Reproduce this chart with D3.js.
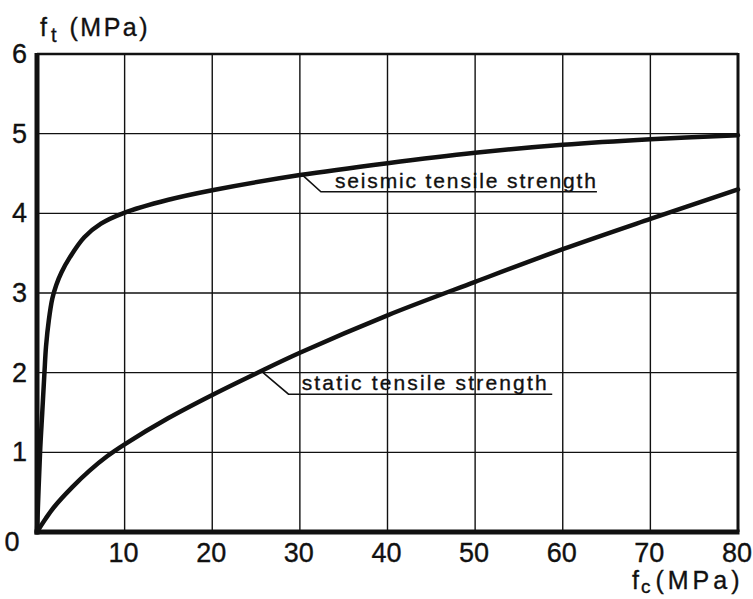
<!DOCTYPE html>
<html>
<head>
<meta charset="utf-8">
<script src="https://cdn.jsdelivr.net/npm/d3@7"></script>
<style>
  html, body { margin: 0; padding: 0; background: #fff; }
  svg { display: block; }
  text { font-family: "Liberation Sans", Arial, sans-serif; fill: #111; stroke: #111; stroke-width: 0.35; }
</style>
</head>
<body>
<svg id="chart" width="753" height="599"></svg>
<script>
// Compressive strength fc (MPa) and tensile strength ft (MPa)
const seismicFc = [0, 0.35, 0.6, 0.85, 1.03, 1.35, 1.75, 2.2, 2.8, 3.76, 5.4, 7.3, 9.8, 15, 20, 30, 40, 50, 60, 70, 80];
const seismicFt = [0, 1.0, 1.5, 2.0, 2.33, 2.66, 2.93, 3.1, 3.26, 3.45, 3.7, 3.87, 4.0, 4.17, 4.29, 4.48, 4.63, 4.76, 4.86, 4.93, 4.98];

const staticFc = [0, 1, 2, 4, 6, 8, 10, 15, 20, 25, 30, 40, 50, 60, 70, 80];
const staticFt = [0, 0.17, 0.32, 0.56, 0.77, 0.95, 1.1, 1.43, 1.72, 1.99, 2.25, 2.72, 3.14, 3.55, 3.93, 4.30];

const xTicks = [10, 20, 30, 40, 50, 60, 70, 80];
const yTicks = [1, 2, 3, 4, 5, 6];

// Leader-line annotations: [curve point, elbow, end of underline] in data units
const seismicLabel = { text: "seismic tensile strength", pts: [[30.3, 4.48], [32.4, 4.27], [63.9, 4.27]], textStart: 34.0, textLen: 261 };
const staticLabel  = { text: "static tensile strength",  pts: [[25.8, 2.0], [28.7, 1.73], [58.8, 1.73]], textStart: 30.2, textLen: 245 };

const svg = d3.select("#chart");
const x = d3.scaleLinear().domain([0, 80]).range([37, 738]);
const y = d3.scaleLinear().domain([0, 6]).range([532, 54]);

// grid
const grid = svg.append("g");
grid.selectAll("line.v").data(xTicks.slice(0, -1)).join("line")
  .attr("x1", d => x(d)).attr("x2", d => x(d))
  .attr("y1", y(0)).attr("y2", y(6))
  .attr("stroke", "#111").attr("stroke-width", 1.4);
grid.selectAll("line.h").data(yTicks.slice(0, -1)).join("line")
  .attr("x1", x(0)).attr("x2", x(80))
  .attr("y1", d => y(d)).attr("y2", d => y(d))
  .attr("stroke", "#111").attr("stroke-width", 1.4);

// frame
const frame = svg.append("g").attr("stroke", "#111").attr("fill", "none");
frame.append("line").attr("x1", x(0)).attr("x2", x(80)).attr("y1", y(6)).attr("y2", y(6)).attr("stroke-width", 2.5);
frame.append("line").attr("x1", x(80)).attr("x2", x(80)).attr("y1", y(6) - 1).attr("y2", y(0)).attr("stroke-width", 3);
frame.append("line").attr("x1", x(0)).attr("x2", x(0)).attr("y1", y(6) - 1).attr("y2", y(0) + 2.5).attr("stroke-width", 5);
frame.append("line").attr("x1", x(0) - 2.5).attr("x2", x(80) + 1.5).attr("y1", y(0)).attr("y2", y(0)).attr("stroke-width", 5);

// tick labels
svg.append("g").selectAll("text").data(xTicks).join("text")
  .attr("x", d => x(d) - 1).attr("y", 562)
  .attr("text-anchor", "middle").attr("font-size", 27)
  .text(d => d);
svg.append("g").selectAll("text").data(yTicks).join("text")
  .attr("x", 27).attr("y", d => y(d) + 9)
  .attr("text-anchor", "end").attr("font-size", 27)
  .text(d => d);
svg.append("text").attr("x", 12).attr("y", 551).attr("text-anchor", "middle")
  .attr("font-size", 27).text("0");

// axis titles
const yTitle = svg.append("text").attr("x", 40).attr("y", 36).attr("font-size", 25);
yTitle.append("tspan").text("f");
yTitle.append("tspan").attr("dx", 4).attr("dy", 6).attr("font-size", 20).text("t");
yTitle.append("tspan").attr("dx", 13).attr("dy", -6).attr("letter-spacing", 2.5).text("(MPa)");

const xTitle = svg.append("text").attr("x", 632).attr("y", 589).attr("font-size", 25);
xTitle.append("tspan").text("f");
xTitle.append("tspan").attr("dx", 2).attr("dy", 4).attr("font-size", 19).text("c");
xTitle.append("tspan").attr("dx", 5).attr("dy", -4).attr("letter-spacing", 4).text("(MPa)");

// curves
const line = d3.line().x(d => x(d[0])).y(d => y(d[1])).curve(d3.curveCatmullRom.alpha(0.5));
svg.append("path").datum(d3.zip(seismicFc, seismicFt))
  .attr("d", line).attr("fill", "none").attr("stroke", "#111")
  .attr("stroke-width", 4.5).attr("stroke-linecap", "round");
svg.append("path").datum(d3.zip(staticFc, staticFt))
  .attr("d", line).attr("fill", "none").attr("stroke", "#111")
  .attr("stroke-width", 4.5).attr("stroke-linecap", "round");

// labels with leader lines
[seismicLabel, staticLabel].forEach(l => {
  svg.append("path")
    .attr("d", d3.line().x(d => x(d[0])).y(d => y(d[1])).curve(d3.curveLinear)(l.pts))
    .attr("fill", "none").attr("stroke", "#111").attr("stroke-width", 1.6);
  svg.append("text")
    .attr("x", x(l.textStart)).attr("y", y(l.pts[1][1]) - 4)
    .attr("font-size", 21)
    .attr("textLength", l.textLen).attr("lengthAdjust", "spacing")
    .text(l.text);
});
</script>
</body>
</html>
